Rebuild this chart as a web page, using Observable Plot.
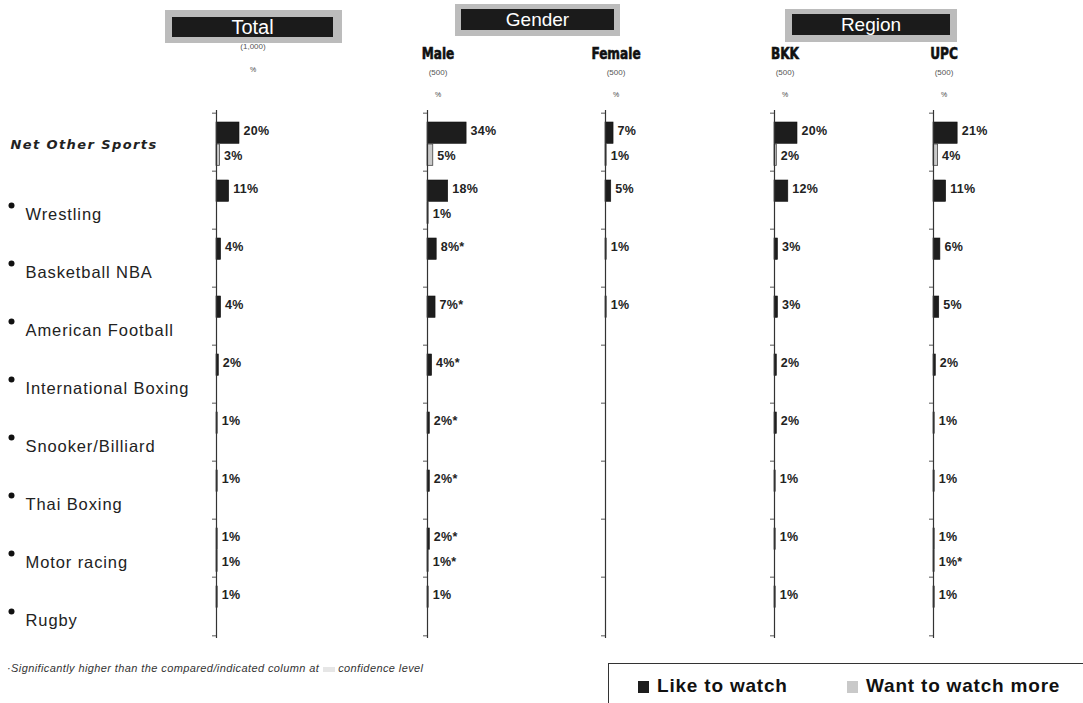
<!DOCTYPE html>
<html><head><meta charset="utf-8">
<script src="https://cdn.jsdelivr.net/npm/d3@7"></script>
<script src="https://cdn.jsdelivr.net/npm/@observablehq/plot@0.6"></script>
<style>
body{margin:0;background:#fff;font-family:Arial,"Liberation Sans",sans-serif;}
#root{position:relative;width:1083px;height:703px;overflow:hidden;background:#fff;}
.abs{position:absolute;}
.outer{position:absolute;background:#bcbcbc;}
.inner{position:absolute;background:#1b1b1b;color:#fff;text-align:center;font-family:Arial,"Liberation Sans",sans-serif;}
.sub{position:absolute;font-family:"DejaVu Sans Condensed","DejaVu Sans",sans-serif;font-weight:bold;font-size:13.5px;color:#111;transform:translateX(-50%) scaleY(1.15);white-space:nowrap;-webkit-text-stroke:0.5px #111;}
.base{position:absolute;font-size:8px;color:#555;transform:translateX(-50%);}
.pct{position:absolute;font-size:7px;color:#444;transform:translateX(-50%);}
</style></head>
<body><div id="root"></div>
<script>
// ---------- data ----------
const categories = ["Net Other Sports","Wrestling","Basketball NBA","American Football","International Boxing","Snooker/Billiard","Thai Boxing","Motor racing","Rugby"];
const panelNames = ["Total","Male","Female","BKK","UPC"];
const panelBases = ["(1,000)","(500)","(500)","(500)","(500)"];
const seriesNames = ["Like to watch","Want to watch more"];

const totalLike  = [20,11,4,4,2,1,1,1,1];
const totalWant  = [3,null,null,null,null,null,null,1,null];
const maleLike   = [34,18,8,7,4,2,2,2,1];
const maleWant   = [5,1,null,null,null,null,null,1,null];
const femaleLike = [7,5,1,1,null,null,null,null,null];
const femaleWant = [1,null,null,null,null,null,null,null,null];
const bkkLike    = [20,12,3,3,2,2,1,1,1];
const bkkWant    = [2,null,null,null,null,null,null,null,null];
const upcLike    = [21,11,6,5,2,1,1,1,1];
const upcWant    = [4,null,null,null,null,null,null,1,null];
// significance markers (*)
const noSig      = [0,0,0,0,0,0,0,0,0];
const maleLikeSig= [0,0,1,1,1,1,1,1,0];
const maleWantSig= [0,0,0,0,0,0,0,1,0];
const upcWantSig = [0,0,0,0,0,0,0,1,0];

const panelData = [
  {like: totalLike,  want: totalWant,  likeSig: noSig,       wantSig: noSig},
  {like: maleLike,   want: maleWant,   likeSig: maleLikeSig, wantSig: maleWantSig},
  {like: femaleLike, want: femaleWant, likeSig: noSig,       wantSig: noSig},
  {like: bkkLike,    want: bkkWant,    likeSig: noSig,       wantSig: noSig},
  {like: upcLike,    want: upcWant,    likeSig: noSig,       wantSig: upcWantSig}
];

// ---------- layout ----------
const W = 1083, H = 703;
const Y0 = 110, Y1 = 638;
const BW = (Y1 - Y0) / categories.length;
const PX_PER_PCT = 1.15;
const ML = 8, PW = 150;
const axisX = [216, 427, 605, 774, 933];
const LIKE_COLOR = "#1d1d1d", WANT_COLOR = "#c9c9c9";
const FONT = "Arial, 'Liberation Sans', sans-serif";

const root = document.getElementById("root");
function add(el){ root.appendChild(el); return el; }
function div(cls, style, text){
  const d = document.createElement("div");
  if (cls) d.className = cls;
  Object.assign(d.style, style);
  if (text != null) d.textContent = text;
  return add(d);
}

// ---------- category labels ----------
const labelPlot = Plot.plot({
  width: 210, height: H,
  marginLeft: 0, marginRight: 0, marginTop: Y0, marginBottom: H - Y1,
  y: {type: "band", domain: categories, padding: 0, axis: null},
  style: {background: "transparent", overflow: "visible"},
  marks: [
    Plot.text(categories.slice(0,1), {y: d => d, frameAnchor: "left", dx: 10, dy: 2,
      text: d => d, fontSize: 13, fontWeight: "bold", fontStyle: "oblique", fill: "#222",
      textAnchor: "start", fontFamily: "'DejaVu Sans', sans-serif"}),
    Plot.dot(categories.slice(1), {y: d => d, frameAnchor: "left", dx: 11, dy: 5, r: 3, fill: "#111", stroke: null}),
    Plot.text(categories.slice(1), {y: d => d, frameAnchor: "left", dx: 25, dy: 14,
      text: d => d, fontSize: 16.5, fill: "#222", textAnchor: "start", fontFamily: FONT})
  ]
});
// letter spacing (not a Plot text option) applied to the rendered labels
d3.select(labelPlot).selectAll("text").each(function() {
  const t = d3.select(this);
  t.attr("letter-spacing", t.text() === categories[0] ? "1.4px" : "0.9px");
});
labelPlot.style.position = "absolute"; labelPlot.style.left = "0px"; labelPlot.style.top = "0px";
add(labelPlot);

// ---------- panels ----------
function panelPlot(p) {
  const rows = categories.map((c, i) => ({cat: c, like: p.like[i], want: p.want[i], ls: p.likeSig[i], ws: p.wantSig[i]}));
  const likeRows = rows.filter(d => d.like != null);
  const wantRows = rows.filter(d => d.want != null);
  const last = categories.slice(-1);
  return Plot.plot({
    width: PW, height: H,
    marginLeft: ML, marginRight: 0, marginTop: Y0, marginBottom: H - Y1,
    x: {domain: [0, (PW - ML) / PX_PER_PCT], axis: null},
    y: {type: "band", domain: categories, padding: 0, axis: null},
    style: {background: "transparent", overflow: "visible"},
    marks: [
      Plot.barX(likeRows, {x: "like", y: "cat", insetTop: 9, insetBottom: BW - 31,
        fill: LIKE_COLOR, stroke: "#111", strokeWidth: 0.6}),
      Plot.barX(wantRows, {x: "want", y: "cat", insetTop: 31, insetBottom: BW - 53,
        fill: WANT_COLOR, stroke: "#444", strokeWidth: 0.8}),
      Plot.ruleX([0], {stroke: "#333", strokeWidth: 1.2}),
      Plot.ruleY(categories, {y: d => d, x1: 0, x2: 0, insetLeft: -4, dy: -BW / 2, stroke: "#555", strokeWidth: 1}),
      Plot.ruleY(last, {y: d => d, x1: 0, x2: 0, insetLeft: -4, dy: BW / 2, stroke: "#555", strokeWidth: 1}),
      Plot.text(likeRows, {x: "like", y: "cat", text: d => d.like + "%" + (d.ls ? "*" : ""),
        dx: 4, dy: 18 - BW / 2, textAnchor: "start", fontSize: 12.5, fontWeight: "bold", fill: "#222",
        fontFamily: FONT}),
      Plot.text(wantRows, {x: "want", y: "cat", text: d => d.want + "%" + (d.ws ? "*" : ""),
        dx: 4, dy: 43 - BW / 2, textAnchor: "start", fontSize: 12.5, fontWeight: "bold", fill: "#222",
        fontFamily: FONT})
    ]
  });
}
panelData.forEach((p, i) => {
  const svg = panelPlot(p);
  d3.select(svg).selectAll("text").attr("letter-spacing", "0.3px");
  svg.style.position = "absolute";
  svg.style.left = (axisX[i] - ML) + "px";
  svg.style.top = "0px";
  add(svg);
});

// ---------- headers ----------
function groupBox(x, y, w, h, ix, iy, iw, ih, label, fs) {
  div("outer", {left: x + "px", top: y + "px", width: w + "px", height: h + "px"});
  div("inner", {left: ix + "px", top: iy + "px", width: iw + "px", height: ih + "px",
    fontSize: fs + "px", lineHeight: ih + "px"}, label);
}
groupBox(165, 10, 177, 33, 172, 17, 161, 20, panelNames[0], 20);
groupBox(455, 4, 165, 32, 461, 9, 153, 21, "Gender", 19);
groupBox(785, 9, 172, 33, 792, 14, 158, 21, "Region", 19);

div("base", {left: "253px", top: "42px"}, panelBases[0]);
div("pct", {left: "253px", top: "66px"}, "%");
for (let i = 1; i < panelNames.length; i++) {
  const cx = axisX[i] + 11;
  div("sub", {left: cx + "px", top: "45px"}, panelNames[i]);
  div("base", {left: cx + "px", top: "68px"}, panelBases[i]);
  div("pct", {left: cx + "px", top: "91px"}, "%");
}

// ---------- footnote ----------
const fn = div("abs", {left: "7px", top: "662px", fontSize: "11px", fontStyle: "italic", color: "#333", whiteSpace: "nowrap", letterSpacing: "0.4px"});
fn.innerHTML = '\u00b7Significantly higher than the compared/indicated column at <span style="display:inline-block;width:12px;height:5px;background:#e6e6e6;vertical-align:middle"></span> confidence level';

// ---------- legend ----------
const lg = div("abs", {left: "608px", top: "663px", width: "520px", height: "60px", border: "1px solid #333", boxSizing: "border-box"});
function legendItem(x, color, label) {
  const sq = document.createElement("div");
  Object.assign(sq.style, {position: "absolute", left: x + "px", top: "17px", width: "11px", height: "12px", background: color});
  lg.appendChild(sq);
  const t = document.createElement("div");
  Object.assign(t.style, {position: "absolute", left: (x + 19) + "px", top: "11px", fontSize: "19px", fontWeight: "bold", color: "#111", letterSpacing: "0.8px", whiteSpace: "nowrap"});
  t.textContent = label;
  lg.appendChild(t);
}
legendItem(29, LIKE_COLOR, seriesNames[0]);
legendItem(238, WANT_COLOR, seriesNames[1]);
</script>
</body></html>
